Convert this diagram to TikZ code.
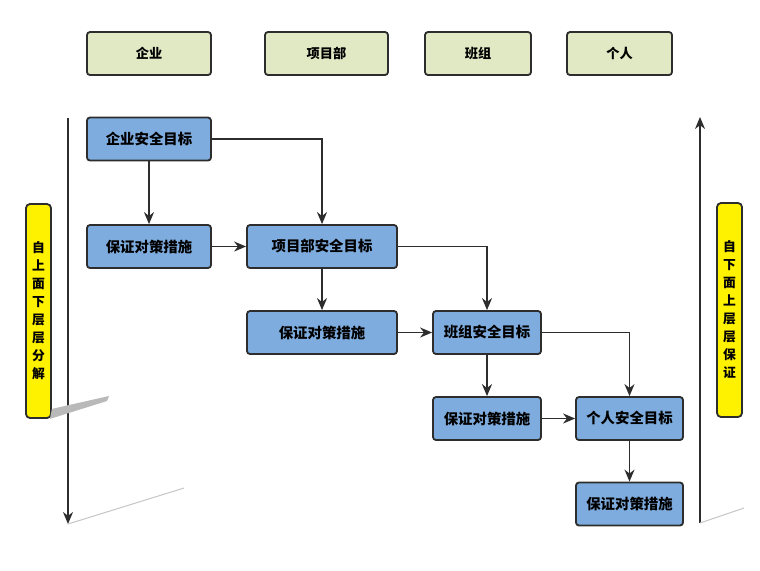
\documentclass[tikz,border=0pt]{standalone}
\usepackage{fontspec}
\newfontfamily\cjk{Noto Sans CJK SC}
\usetikzlibrary{arrows.meta}
\tikzset{>={Stealth[length=6pt,width=5pt]}}
\definecolor{headgreen}{RGB}{225,233,196}
\definecolor{goalblue}{RGB}{126,172,222}
\definecolor{edgegray}{RGB}{45,45,45}
\tikzset{
  headbox/.style={draw=edgegray, line width=0.9pt, fill=headgreen, rounded corners=1.5pt,
    minimum height=21.5pt, font=\cjk\bfseries\fontsize{6.6}{7}\selectfont},
  goalbox/.style={draw=edgegray, line width=0.9pt, fill=goalblue, rounded corners=1.5pt,
    minimum height=21.5pt, font=\cjk\bfseries\fontsize{7.2}{8}\selectfont},
  sidebox/.style={draw=edgegray, line width=0.9pt, fill=yellow, rounded corners=2pt,
    minimum width=12.5pt, minimum height=107pt, inner sep=0pt, align=center,
    font=\cjk\bfseries\fontsize{6.4}{9}\selectfont},
  link/.style={->, line width=0.8pt, draw=edgegray},
  shade/.style={draw=gray!45, line width=0.5pt}
}
\begin{document}
\begin{tikzpicture}[x=0.5pt, y=-0.5pt]
    \useasboundingbox[fill=white] (0,0) rectangle (760,570);
    % column heads
    \node[headbox, minimum width=62pt]   (hqy) at (149,53.5)   {企业};
    \node[headbox, minimum width=61.5pt] (hxm) at (326.5,53.5) {项目部};
    \node[headbox, minimum width=53pt]   (hbz) at (478,53.5)   {班组};
    \node[headbox, minimum width=52.5pt] (hgr) at (619.5,53.5) {个人};
    % goals and measures
    \node[goalbox, minimum width=62pt] (gqy) at (149,139)   {企业安全目标};
    \node[goalbox, minimum width=62pt] (mqy) at (149,246.5) {保证对策措施};
    \node[goalbox, minimum width=75pt] (gxm) at (322,246.5) {项目部安全目标};
    \node[goalbox, minimum width=75pt] (mxm) at (322,332.5) {保证对策措施};
    \node[goalbox, minimum width=54pt] (gbz) at (487,332.5) {班组安全目标};
    \node[goalbox, minimum width=54pt] (mbz) at (487,418.5) {保证对策措施};
    \node[goalbox, minimum width=53.5pt] (ggr) at (629.5,418.5) {个人安全目标};
    \node[goalbox, minimum width=53.5pt] (mgr) at (629.5,504)   {保证对策措施};
    % side labels
    \node[sidebox] (sdown) at (38.5,311) {自\\上\\面\\下\\层\\层\\分\\解};
    \node[sidebox] (sup)   at (729.5,310) {自\\下\\面\\上\\层\\层\\保\\证};
    \coordinate (ltop) at (68,118);
    \coordinate (lbot) at (68,524);
    \coordinate (rbot) at (700,523);
    \coordinate (rtop) at (700,117);
    % connectors
    \draw[link] (gqy) -- (mqy);
    \draw[link] (gqy.east) -| (gxm.north);
    \draw[link] (mqy) -- (gxm);
    \draw[link] (gxm) -- (mxm);
    \draw[link] (gxm.east) -| (gbz.north);
    \draw[link] (mxm) -- (gbz);
    \draw[link] (gbz) -- (mbz);
    \draw[link] (gbz.east) -| (ggr.north);
    \draw[link] (mbz) -- (ggr);
    \draw[link] (ggr) -- (mgr);
    \draw[link] (ltop) -- (lbot);
    \draw[link] (rbot) -- (rtop);
    % shadow traces
    \fill[gray!55] ([yshift=5pt]sdown.south east) -- (109,396) -- (107,401) -- ([xshift=-1pt]sdown.south east);
    \draw[shade] (lbot) -- (184,488);
    \draw[shade] (rbot) -- (744,508);
\end{tikzpicture}
\end{document}
